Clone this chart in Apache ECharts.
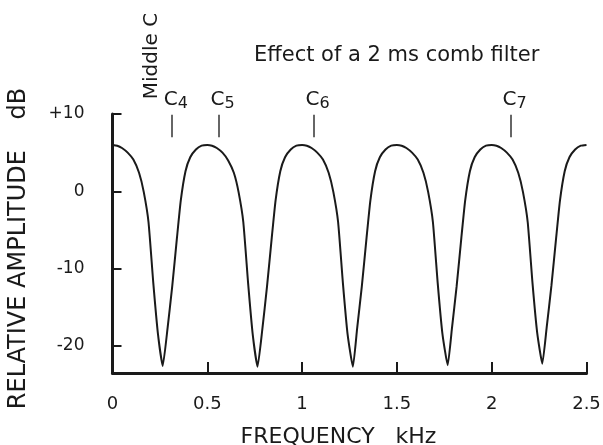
<!DOCTYPE html>
<html>
<head>
<meta charset="utf-8">
<script src="https://cdn.jsdelivr.net/npm/echarts@6/dist/echarts.min.js"></script>
<style>
html,body{margin:0;padding:0;background:#fff;}
#chart{width:603px;height:445px;}
</style>
</head>
<body>
<div id="chart"></div>
<script>
// Frequency samples (kHz)
const freqKHz = [
  0, 0.025, 0.05, 0.08, 0.11, 0.14, 0.165, 0.19, 0.215, 0.24, 0.265, 0.29, 0.315, 0.34, 0.36, 0.385, 0.41, 0.44, 0.47,
  0.5, 0.525, 0.55, 0.58, 0.61, 0.64, 0.665, 0.69, 0.715, 0.74, 0.765, 0.79, 0.815, 0.84, 0.86, 0.885, 0.91, 0.94, 0.97,
  1.0, 1.025, 1.05, 1.08, 1.11, 1.14, 1.165, 1.19, 1.215, 1.24, 1.268, 1.29, 1.315, 1.34, 1.36, 1.385, 1.41, 1.44, 1.47,
  1.5, 1.525, 1.55, 1.58, 1.61, 1.64, 1.665, 1.69, 1.715, 1.74, 1.768, 1.79, 1.815, 1.84, 1.86, 1.885, 1.91, 1.94, 1.97,
  2.0, 2.025, 2.05, 2.08, 2.11, 2.14, 2.165, 2.19, 2.215, 2.24, 2.267, 2.29, 2.315, 2.34, 2.36, 2.385, 2.41, 2.44, 2.47, 2.5
];
// Relative amplitude (dB)
const ampDB = [
  6.0, 5.9, 5.6, 5.0, 4.1, 2.4, -0.1, -4.0, -11.8, -18.5, -22.6, -17.8, -12.3, -6.0, -1.2, 2.6, 4.4, 5.4, 5.9,
  6.0, 5.9, 5.6, 5.0, 4.0, 2.4, -0.1, -4.0, -11.8, -18.6, -22.7, -17.9, -12.3, -6.0, -1.2, 2.6, 4.4, 5.4, 5.9,
  6.0, 5.9, 5.6, 5.0, 4.1, 2.4, -0.1, -4.0, -11.8, -18.5, -22.7, -17.8, -12.3, -6.0, -1.2, 2.6, 4.4, 5.4, 5.9,
  6.0, 5.9, 5.6, 5.0, 4.1, 2.4, -0.1, -4.0, -11.8, -18.4, -22.5, -17.8, -12.3, -6.0, -1.2, 2.6, 4.4, 5.4, 5.9,
  6.0, 5.9, 5.6, 5.0, 4.1, 2.4, -0.1, -4.0, -11.8, -18.3, -22.3, -17.6, -12.2, -6.0, -1.2, 2.6, 4.4, 5.4, 5.9, 6.0
];
// Note markers
const noteNames = ['C4', 'C5', 'C6', 'C7'];
const noteFreqKHz = [0.313, 0.559, 1.061, 2.1];
const noteMarkFromDB = 7.0;
const noteMarkToDB = 9.9;
// Axis ticks
const yTickValues = [-20, -10, 0, 10];
const xTickValues = [0, 0.5, 1, 1.5, 2, 2.5];

const titleText = 'Effect of a 2 ms comb filter';
const xAxisTitle = 'FREQUENCY   kHz';
const yAxisTitle = 'RELATIVE AMPLITUDE    dB';
const middleCText = 'Middle C';

const FONT = 'DejaVu Sans';
const INK = '#1a1a1a';

const chart = echarts.init(document.getElementById('chart'), null, {renderer: 'canvas'});

const curve = freqKHz.map((f, i) => [f, ampDB[i]]);

const option = {
  backgroundColor: '#fff',
  animation: false,
  title: {
    text: titleText,
    left: 249, top: 40,
    textStyle: {fontFamily: FONT, fontSize: 21, fontWeight: 'normal', color: INK}
  },
  grid: {left: 112.5, right: 16.5, top: 114, bottom: 72, containLabel: false, outerBoundsMode: 'none'},
  xAxis: {
    type: 'value', min: 0, max: 2.5, interval: 0.5,
    name: xAxisTitle, nameLocation: 'middle', nameGap: 53,
    nameTextStyle: {fontFamily: FONT, fontSize: 22, color: INK, padding: [0, 22, 0, 0]},
    axisLine: {show: true, onZero: false, lineStyle: {color: INK, width: 3}},
    axisTick: {show: true, inside: true, length: 11, lineStyle: {color: INK, width: 2}},
    axisLabel: {
      customValues: xTickValues,
      margin: 22, fontFamily: FONT, fontSize: 18, color: INK,
      showMinLabel: true, showMaxLabel: true
    },
    splitLine: {show: false}
  },
  yAxis: {
    type: 'value', min: -23.5, max: 10,
    name: yAxisTitle, nameLocation: 'middle', nameRotate: 90, nameGap: 82,
    nameTextStyle: {fontFamily: FONT, fontSize: 24, color: INK, padding: [0, 10, 0, 0]},
    axisLine: {show: true, onZero: false, lineStyle: {color: INK, width: 3}},
    axisTick: {show: true, inside: true, length: 9, customValues: yTickValues, lineStyle: {color: INK, width: 2}},
    axisLabel: {
      customValues: yTickValues,
      margin: 28, fontFamily: FONT, fontSize: 17, color: INK,
      formatter: v => (v > 0 ? '+' + v : String(v)),
      padding: [0, 0, 9, 0]
    },
    splitLine: {show: false}
  },
  graphic: [{
    type: 'text',
    x: 152, y: 56,
    rotation: Math.PI / 2,
    style: {
      text: middleCText, fill: INK,
      font: '20px "' + FONT + '"',
      align: 'center', verticalAlign: 'middle'
    }
  }],
  series: [{
    type: 'line',
    data: curve,
    showSymbol: false,
    symbol: 'none',
    smooth: 0.15,
    lineStyle: {color: INK, width: 2},
    silent: true,
    markLine: {
      silent: true,
      symbol: ['none', 'none'],
      lineStyle: {color: '#333', width: 1.5, type: 'solid'},
      label: {
        show: true,
        position: 'end',
        distance: 3,
        padding: [0, 0, 0, 8],
        formatter: p => '{c|' + p.name.charAt(0) + '}{s|' + p.name.slice(1) + '}',
        rich: {
          c: {fontFamily: FONT, fontSize: 20, color: INK, lineHeight: 22, verticalAlign: 'top'},
          s: {fontFamily: FONT, fontSize: 16, color: INK, lineHeight: 22, padding: [8, 0, 0, 0], verticalAlign: 'bottom'}
        }
      },
      data: noteFreqKHz.map((f, i) => [
        {name: noteNames[i], coord: [f, noteMarkFromDB]},
        {coord: [f, noteMarkToDB]}
      ])
    }
  }]
};

chart.setOption(option);
</script>
</body>
</html>
